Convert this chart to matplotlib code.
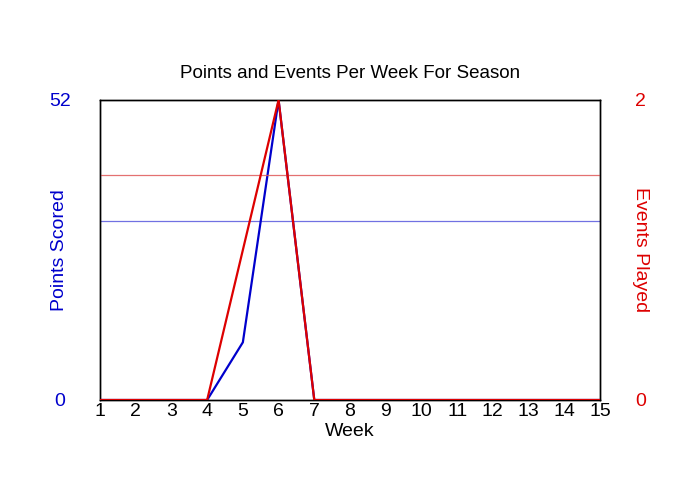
import matplotlib
matplotlib.use("Agg")
import matplotlib.pyplot as plt

weeks = list(range(1, 16))
points = [0, 0, 0, 0, 10, 52, 0, 0, 0, 0, 0, 0, 0, 0, 0]
events = [0, 0, 0, 0, 1, 2, 0, 0, 0, 0, 0, 0, 0, 0, 0]
points_avg = 31
events_avg = 1.5
points_max = 52
events_max = 2

plt.rcParams['font.family'] = ['Liberation Sans', 'DejaVu Sans']

BLUE = '#0000cc'
RED = '#dd0000'

fig = plt.figure(figsize=(7, 5), dpi=100)
ax = fig.add_axes([100/700, 0.2, 500/700, 0.6])
ax2 = ax.twinx()

ax.axhline(points_avg, color='#5858dd', lw=0.9, alpha=0.85, zorder=1)
ax2.axhline(events_avg, color='#e05858', lw=0.9, alpha=0.85, zorder=1)
ax.plot(weeks, points, color=BLUE, lw=1.6, zorder=3)
ax2.plot(weeks, events, color=RED, lw=1.6, zorder=3)

ax.set_xlim(1, 15)
ax.set_ylim(0, points_max)
ax2.set_ylim(0, events_max)
ax.set_xticks(weeks)
ax.set_xticklabels([str(w) for w in weeks], fontsize=14)
ax.tick_params(axis='x', length=0, pad=2)
ax.set_yticks([0, points_max])
ax.set_yticklabels(['0', str(points_max)], fontsize=14, color=BLUE)
ax.tick_params(axis='y', length=0, pad=29)
for lbl in ax.get_yticklabels():
    lbl.set_horizontalalignment('center')
ax2.set_yticks([0, events_max])
ax2.set_yticklabels(['0', str(events_max)], fontsize=14, color=RED)
ax2.tick_params(axis='y', length=0, pad=29)
for lbl in ax2.get_yticklabels():
    lbl.set_horizontalalignment('center')

ax.set_xlabel('Week', fontsize=14, labelpad=2)
ax.set_ylabel('Points Scored', fontsize=14, color=BLUE, va='center')
ax.yaxis.set_label_coords(-40/500, 0.5)
ax2.set_ylabel('Events Played', fontsize=14, color=RED, rotation=270, va='center')
ax2.yaxis.set_label_coords(1 + 40/500, 0.5)
fig.text(0.5, 1 - 73/500, 'Points and Events Per Week For Season', ha='center', va='center', fontsize=13.5)

for a in (ax, ax2):
    for s in a.spines.values():
        s.set_color('black')
        s.set_linewidth(1)

fig.savefig('out.png', dpi=100)
